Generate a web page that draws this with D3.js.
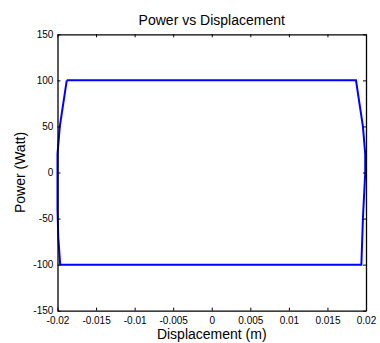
<!DOCTYPE html>
<html>
<head>
<meta charset="utf-8">
<script src="https://cdn.jsdelivr.net/npm/d3@7"></script>
<style>
  html, body { margin: 0; padding: 0; background: #fff; }
  svg { display: block; font-family: "Liberation Sans", Arial, sans-serif; }
</style>
</head>
<body>
<svg id="chart" width="380" height="343"></svg>
<script>
// Power/displacement loop, traced clockwise from the top-left corner
const displacement = [-0.0188, 0.0187, 0.0196, 0.0199, 0.0199, 0.0196, 0.0194,
                      -0.01965, -0.0199, -0.0200, -0.0200, -0.0197, -0.0188];
const power        = [100, 100, 50, 20, 0, -50, -100,
                      -100, -70, -40, 20, 50, 100];

const xTicks = [-0.02, -0.015, -0.01, -0.005, 0, 0.005, 0.01, 0.015, 0.02];
const yTicks = [-150, -100, -50, 0, 50, 100, 150];
const xTickLabels = ["-0.02", "-0.015", "-0.01", "-0.005", "0", "0.005", "0.01", "0.015", "0.02"];
const yTickLabels = ["-150", "-100", "-50", "0", "50", "100", "150"];

const margin = { left: 57.5, right: 14, top: 34.3, bottom: 32.3 };
const W = 380, H = 343;
const svg = d3.select("#chart");

const x = d3.scaleLinear().domain([-0.02, 0.02]).range([margin.left, W - margin.right]);
const y = d3.scaleLinear().domain([-150, 150]).range([H - margin.bottom, margin.top]);

// Loop curve
const pts = displacement.map((d, i) => [d, power[i]]);
svg.append("path")
  .datum(pts)
  .attr("fill", "none")
  .attr("stroke", "#0000ff")
  .attr("stroke-width", 2)
  .attr("stroke-linejoin", "miter")
  .attr("d", d3.line().x(d => x(d[0])).y(d => y(d[1])));

// Axes with inward ticks on all four sides
const tl = 3;
svg.append("g").attr("transform", `translate(0,${y(-150)})`)
  .call(d3.axisBottom(x).tickValues(xTicks).tickSizeInner(-tl).tickSizeOuter(0)
    .tickFormat((d, i) => xTickLabels[i]).tickPadding(6.5));
svg.append("g").attr("transform", `translate(0,${y(150)})`)
  .call(d3.axisTop(x).tickValues(xTicks).tickSizeInner(-tl).tickSizeOuter(0).tickFormat(""));
svg.append("g").attr("transform", `translate(${x(-0.02)},0)`)
  .call(d3.axisLeft(y).tickValues(yTicks).tickSizeInner(-tl).tickSizeOuter(0)
    .tickFormat((d, i) => yTickLabels[i]).tickPadding(4.2));
svg.append("g").attr("transform", `translate(${x(0.02)},0)`)
  .call(d3.axisRight(y).tickValues(yTicks).tickSizeInner(-tl).tickSizeOuter(0).tickFormat(""));

svg.selectAll(".tick text")
  .attr("font-family", "'Liberation Sans', Arial, sans-serif")
  .attr("font-size", 10)
  .attr("fill", "#000");
svg.selectAll(".tick line").attr("stroke", "#000");
svg.selectAll(".domain").attr("stroke", "#000").attr("stroke-width", 1.3);

// Titles
svg.append("text")
  .attr("x", (x(-0.02) + x(0.02)) / 2).attr("y", 25)
  .attr("text-anchor", "middle").attr("font-size", 14)
  .text("Power vs Displacement");
svg.append("text")
  .attr("x", (x(-0.02) + x(0.02)) / 2).attr("y", 339)
  .attr("text-anchor", "middle").attr("font-size", 14)
  .text("Displacement (m)");
svg.append("text")
  .attr("transform", `translate(25,${(y(-150) + y(150)) / 2}) rotate(-90)`)
  .attr("text-anchor", "middle").attr("font-size", 14)
  .text("Power (Watt)");
</script>
</body>
</html>
